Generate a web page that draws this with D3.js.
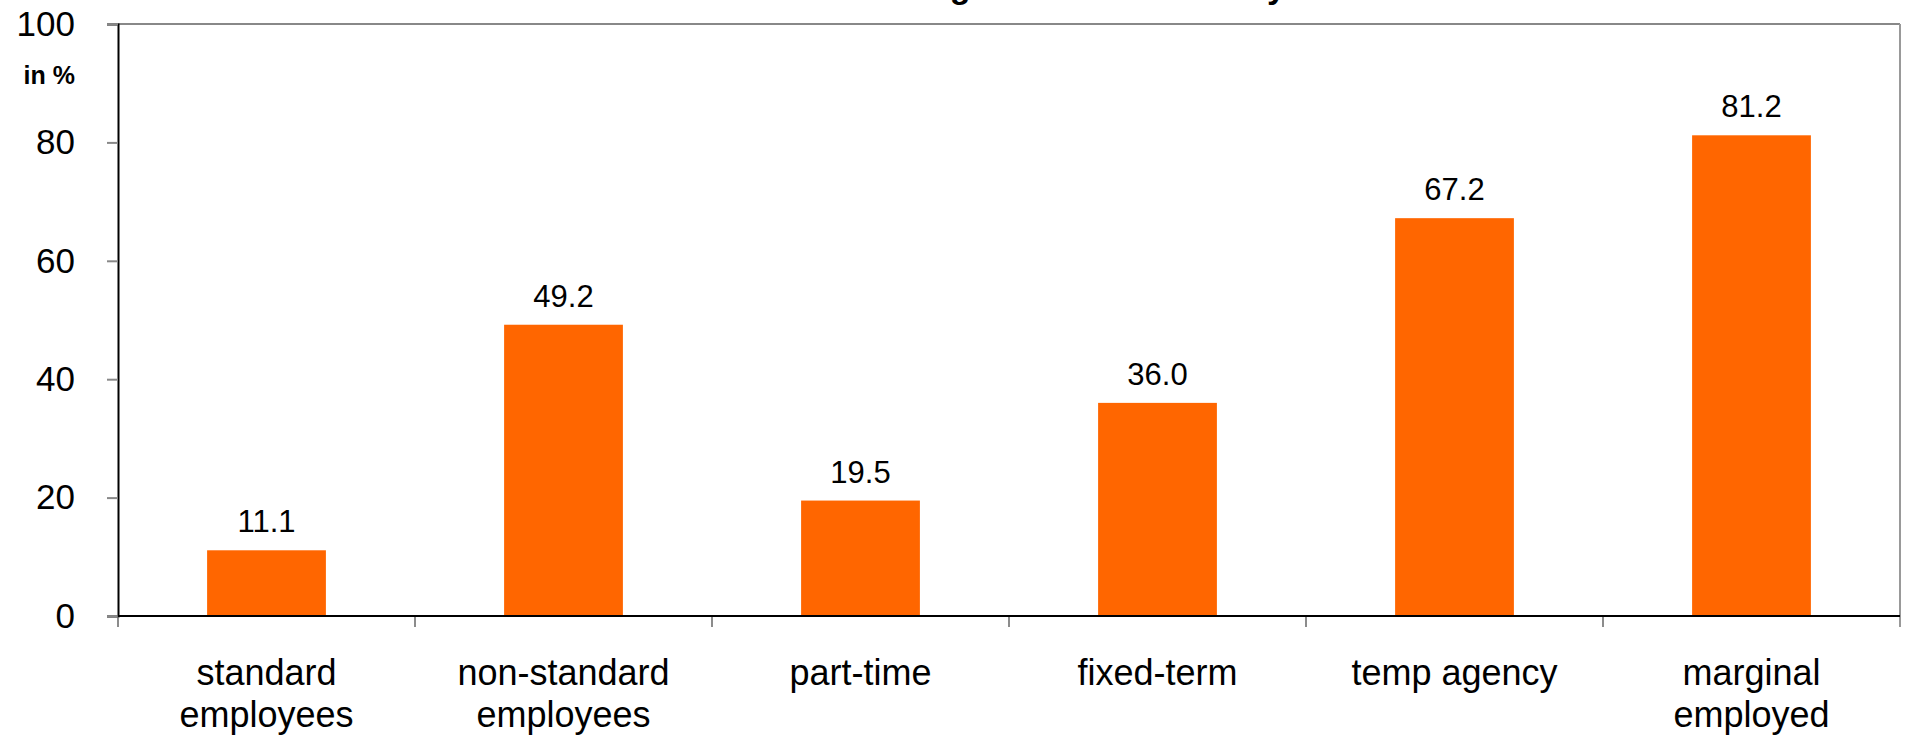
<!DOCTYPE html>
<html>
<head>
<meta charset="utf-8">
<script src="https://cdn.jsdelivr.net/npm/d3@7"></script>
<style>
  html, body { margin: 0; padding: 0; background: #fff; overflow: hidden; }
  svg { display: block; font-family: Arial, "Liberation Sans", sans-serif; }
</style>
</head>
<body>
<svg id="chart" width="1905" height="736"></svg>
<script>
// Share of low-wage earners by form of employment, in %
const categories = [
  ["standard", "employees"],
  ["non-standard", "employees"],
  ["part-time"],
  ["fixed-term"],
  ["temp agency"],
  ["marginal", "employed"]
];
const values = [11.1, 49.2, 19.5, 36.0, 67.2, 81.2];
const yTicks = [0, 20, 40, 60, 80, 100];
const titleText = "Low-wage share in Germany";
const unitLabel = "in %";

const W = 1905, H = 736;
const margin = { top: 24, right: 5, bottom: 120, left: 118 };
const svg = d3.select("#chart");

const x = d3.scaleBand()
  .domain(d3.range(categories.length))
  .range([margin.left, W - margin.right])
  .padding(0);
const barW = x.bandwidth() * 0.4;

const y = d3.scaleLinear()
  .domain([0, 100])
  .range([H - margin.bottom, margin.top]);

const x0 = margin.left, x1 = W - margin.right;
const y0 = y(0), yTop = y(100);

// title (runs off the top edge of the page)
svg.append("text")
  .attr("x", 825)
  .attr("y", -2)
  .attr("text-anchor", "start")
  .attr("font-size", 34)
  .attr("font-weight", "bold")
  .attr("fill", "#000")
  .text(titleText);

// plot frame: top and right in grey
svg.append("line")
  .attr("x1", x0).attr("x2", x1).attr("y1", yTop).attr("y2", yTop)
  .attr("stroke", "#888").attr("stroke-width", 2);
svg.append("line")
  .attr("x1", x1).attr("x2", x1).attr("y1", yTop).attr("y2", y0 + 11)
  .attr("stroke", "#999").attr("stroke-width", 2);

// bars
svg.append("g").selectAll("rect")
  .data(values)
  .join("rect")
  .attr("x", (d, i) => x(i) + (x.bandwidth() - barW) / 2)
  .attr("width", barW)
  .attr("y", d => y(d))
  .attr("height", d => y(0) - y(d))
  .attr("fill", "#ff6600");

// value labels
svg.append("g").selectAll("text")
  .data(values)
  .join("text")
  .attr("x", (d, i) => x(i) + x.bandwidth() / 2)
  .attr("y", d => y(d) - 18)
  .attr("text-anchor", "middle")
  .attr("font-size", 31)
  .attr("fill", "#000")
  .text(d => d.toFixed(1));

// y axis
const yAxis = svg.append("g")
  .attr("transform", `translate(${x0},0)`)
  .call(d3.axisLeft(y).tickValues(yTicks).tickSize(11).tickPadding(32).tickFormat(d3.format("d")));
yAxis.select(".domain").attr("stroke", "#000").attr("stroke-width", 2);
yAxis.selectAll(".tick line").attr("stroke", "#888").attr("stroke-width", 2);
yAxis.selectAll(".tick text")
  .attr("font-size", 35)
  .attr("font-family", "Arial, 'Liberation Sans', sans-serif")
  .attr("fill", "#000");

// unit label
svg.append("text")
  .attr("x", 75)
  .attr("y", 84)
  .attr("text-anchor", "end")
  .attr("font-size", 25)
  .attr("font-weight", "bold")
  .attr("fill", "#000")
  .text(unitLabel);

// x axis baseline with ticks at band boundaries
const boundaries = d3.range(categories.length).map(i => x(i));
svg.append("g").selectAll("line")
  .data(boundaries)
  .join("line")
  .attr("x1", d => d).attr("x2", d => d)
  .attr("y1", y0).attr("y2", y0 + 11)
  .attr("stroke", "#666").attr("stroke-width", 1.5);
svg.append("line")
  .attr("x1", x0).attr("x2", x1).attr("y1", y0).attr("y2", y0)
  .attr("stroke", "#000").attr("stroke-width", 2);

// category labels
const cat = svg.append("g").selectAll("text")
  .data(categories)
  .join("text")
  .attr("x", (d, i) => x(i) + x.bandwidth() / 2)
  .attr("y", 685)
  .attr("text-anchor", "middle")
  .attr("font-size", 36)
  .attr("fill", "#000");
cat.selectAll("tspan")
  .data(d => d)
  .join("tspan")
  .attr("x", function () { return this.parentNode.getAttribute("x"); })
  .attr("dy", (d, i) => i === 0 ? 0 : 42)
  .text(d => d);
</script>
</body>
</html>
